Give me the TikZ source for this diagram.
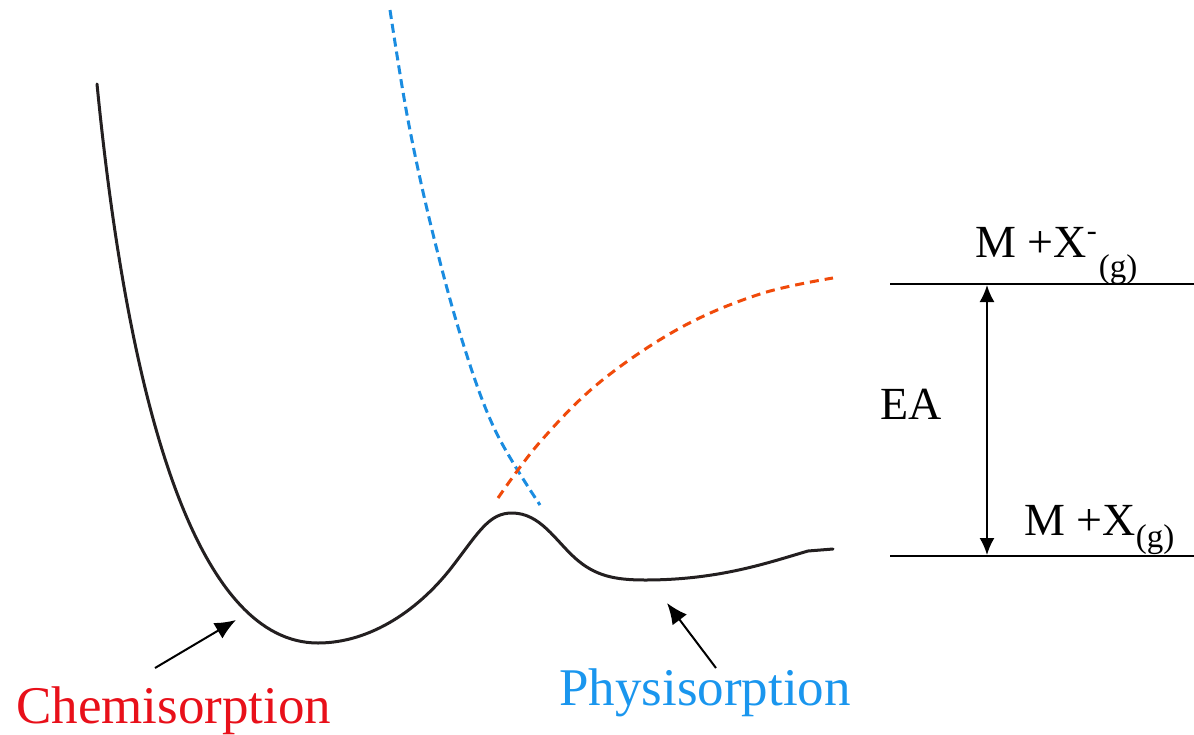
\documentclass[tikz,border=0pt]{standalone}
\usepackage{fontspec}
\setmainfont{Liberation Serif}
\usetikzlibrary{arrows.meta}
\definecolor{chemred}{HTML}{E8101A}
\definecolor{physblue}{HTML}{1A96EE}
\definecolor{dashblue}{HTML}{1A8CE0}
\definecolor{dashorange}{HTML}{F04A0A}
\definecolor{curveblack}{HTML}{231F20}
\tikzset{
  pcurve/.style={draw=curveblack, line width=3pt, line cap=round, line join=round},
  bluedash/.style={draw=dashblue, line width=3pt, dash pattern=on 9pt off 5pt},
  orangedash/.style={draw=dashorange, line width=3pt, dash pattern=on 9pt off 6pt},
  level/.style={draw=black, line width=2pt},
  pointer/.style={draw=black, line width=2pt, -{Latex[length=21pt,width=18pt]}},
  dblarrow/.style={draw=black, line width=2pt, {Latex[length=17pt,width=15pt]}-{Latex[length=17pt,width=15pt]}},
  bigtext/.style={inner sep=0pt, font=\fontsize{53}{60}\selectfont},
  lvltext/.style={inner sep=0pt, font=\fontsize{46}{52}\selectfont},
}
\newcommand{\subgdrop}[1]{\raisebox{-#1}{\fontsize{33}{36}\selectfont (g)}}
\begin{document}
\begin{tikzpicture}[x=1pt,y=-1pt]
\useasboundingbox (0,0) rectangle (1194,734);
% potential curve
\coordinate (s0) at (97,84);
\coordinate (chemmin) at (318,643);
\coordinate (s1) at (455,563);
\coordinate (peak) at (512,513);
\coordinate (s2) at (575,558);
\coordinate (physmin) at (645,580);
\coordinate (s3) at (808,551);
\coordinate (s4) at (833,549);
\draw[pcurve] (s0) .. controls (130,420) and (200,643) .. (chemmin)
  .. controls (370,643) and (420,610) .. (s1)
  .. controls (480,530) and (490,513) .. (peak)
  .. controls (540,513) and (555,540) .. (s2)
  .. controls (595,576) and (615,580) .. (physmin)
  .. controls (720,580) and (770,562) .. (s3) -- (s4);
% dashed curves
\draw[bluedash] plot[smooth, tension=0.6] coordinates {
 (390,10) (408,120) (432,230) (462,340) (495,430) (540,505)};
\draw[orangedash] plot[smooth, tension=0.6] coordinates {
 (498,498) (540,442) (600,382) (680,328) (760,294) (833,278)};
% levels
\coordinate (t1) at (890,284);
\coordinate (t2) at (1194,284);
\coordinate (b1) at (890,556);
\coordinate (b2) at (1194,556);
\draw[level] (t1) -- (t2);
\draw[level] (b1) -- (b2);
\coordinate (ea1) at (987,285);
\coordinate (ea2) at (987,555);
\draw[dblarrow] (ea1) -- (ea2);
\node[lvltext, anchor=base west] (top) at (975,257) {M +X\raisebox{17pt}{\fontsize{30}{36}\selectfont -}\hspace{2pt}\subgdrop{20pt}};
\node[lvltext, anchor=base west] (bot) at (1024,535) {M +X\subgdrop{12pt}};
\node[lvltext, anchor=base west] (ea) at (880,419) {EA};
% labels
\node[bigtext, text=chemred, anchor=base west] (chem) at (16,723) {Chemisorption};
\node[bigtext, text=physblue, anchor=base west] (phys) at (559,705) {Physisorption};
\coordinate (c1) at (155,668);
\coordinate (c2) at (236,620);
\coordinate (p1) at (716,668);
\coordinate (p2) at (667,603);
\draw[pointer] (c1) -- (c2);
\draw[pointer] (p1) -- (p2);
\end{tikzpicture}
\end{document}
